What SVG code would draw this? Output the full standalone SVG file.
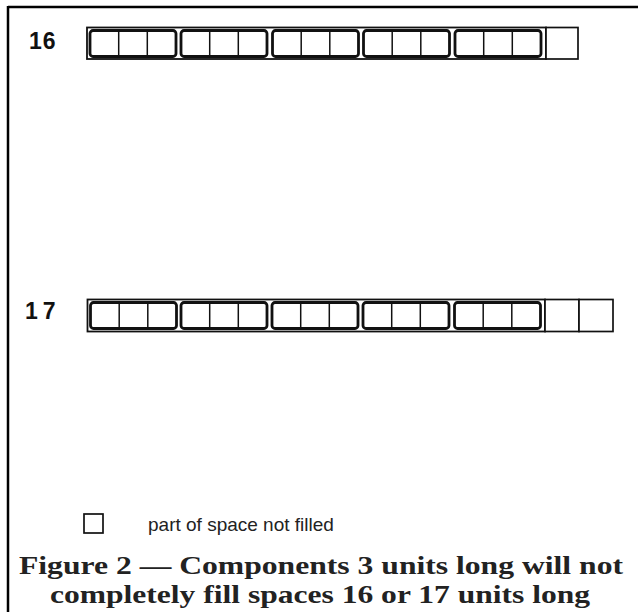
<svg xmlns="http://www.w3.org/2000/svg" width="638" height="612" viewBox="0 0 638 612">
<style>
.frame{stroke:#000;stroke-width:2.5;fill:none}
.outer{fill:none;stroke:#111;stroke-width:1.8}
.comp{fill:#fff;stroke:#111;stroke-width:2.8}
.div{stroke:#111;stroke-width:1.5}
.empty{fill:#fff;stroke:#111;stroke-width:1.7}
.num{font-family:"Liberation Sans",Arial,sans-serif;font-weight:bold;font-size:23px;fill:#111}
.leg{font-family:"Liberation Sans",Arial,sans-serif;font-size:19px;fill:#222}
.cap{font-family:"Liberation Serif","Times New Roman",serif;font-weight:bold;font-size:25px;fill:#222;text-anchor:middle}
</style>
<defs>
<g id="component">
<rect class="comp" x="0" y="0" width="86" height="26" rx="3"/>
<line class="div" x1="28.7" y1="0" x2="28.7" y2="26"/>
<line class="div" x1="57.3" y1="0" x2="57.3" y2="26"/>
</g>
</defs>
<g id="frame">
<line class="frame" x1="8" y1="7" x2="638" y2="7"/>
<line class="frame" x1="8" y1="6" x2="8" y2="612"/>
</g>
<g id="row16">
<text class="num" x="29" y="49" letter-spacing="1">16</text>
<rect class="outer" x="87" y="27.5" width="459" height="31.5"/>
<use href="#component" x="90" y="30.5"/>
<use href="#component" x="181" y="30.5"/>
<use href="#component" x="272.5" y="30.5"/>
<use href="#component" x="363.5" y="30.5"/>
<use href="#component" x="455" y="30.5"/>
<rect class="empty" x="546" y="27.5" width="32" height="31.5"/>
</g>
<g id="row17">
<text class="num" x="25" y="319" letter-spacing="5">17</text>
<rect class="outer" x="87.5" y="299.5" width="457.5" height="32"/>
<use href="#component" x="90.5" y="302.5"/>
<use href="#component" x="181" y="302.5"/>
<use href="#component" x="272" y="302.5"/>
<use href="#component" x="363" y="302.5"/>
<use href="#component" x="454.5" y="302.5"/>
<rect class="empty" x="545" y="299.5" width="34" height="32"/>
<rect class="empty" x="579" y="299.5" width="34" height="32"/>
</g>
<g id="legend">
<rect class="empty" x="84" y="514" width="19" height="19"/>
<text class="leg" x="148" y="531">part of space not filled</text>
</g>
<g id="caption">
<text class="cap" x="321" y="574" textLength="604" lengthAdjust="spacingAndGlyphs">Figure 2 — Components 3 units long will not</text>
<text class="cap" x="320" y="603" textLength="540" lengthAdjust="spacingAndGlyphs">completely fill spaces 16 or 17 units long</text>
</g>
</svg>
